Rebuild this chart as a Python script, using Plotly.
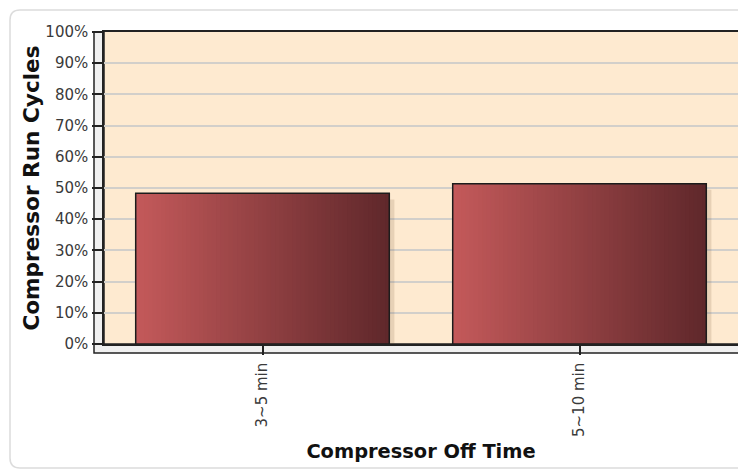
import plotly.graph_objects as go

# ---- data ----
categories = ["3~5 min", "5~10 min"]
run_cycles = [48.3, 51.4]
y_tick_values = [0, 10, 20, 30, 40, 50, 60, 70, 80, 90, 100]
y_tick_labels = ["0%", "10%", "20%", "30%", "40%", "50%", "60%", "70%", "80%", "90%", "100%"]
x_title = "Compressor Off Time"
y_title = "Compressor Run Cycles"

# ---- geometry (page offset of 8px from the html body margin) ----
OFF = 8
W, H = 746 - OFF, 470 - OFF
L, R, T, B = 104 - OFF, 8, 32 - OFF, 470 - 344
PW = W - L - R
PH = H - T - B


def px(x):
    return (x - OFF - L) / PW


def py(y):
    return (H - B - (y - OFF)) / PH


fig = go.Figure()

# drop shadow
fig.add_bar(x=categories, y=run_cycles, base=-2, width=0.8, offset=-0.4 + 0.016,
            marker=dict(color="rgba(110,80,50,0.16)", line_width=0),
            hoverinfo="skip", showlegend=False)

# gradient fill, built from overlapping slices
N = 60
c0 = (195, 89, 90)
c1 = (96, 40, 43)
BW = 0.8
for i in range(N):
    t = i / (N - 1)
    col = "rgb(%d,%d,%d)" % tuple(round(a + (b - a) * t) for a, b in zip(c0, c1))
    fig.add_bar(x=categories, y=run_cycles, width=BW - i * BW / N,
                offset=-0.4 + i * BW / N,
                marker=dict(color=col, line_width=0),
                hoverinfo="skip", showlegend=False)

# outline
fig.add_bar(x=categories, y=run_cycles, width=BW, offset=-0.4,
            marker=dict(color="rgba(0,0,0,0)", line=dict(color="#1c1c1c", width=1.5)),
            showlegend=False)

shapes = []
# outer rounded frame
x0, y0, x1, y1, r = 10, 10, 780, 468, 10
path = (f"M {px(x0)},{py(y0 + r)} Q {px(x0)},{py(y0)} {px(x0 + r)},{py(y0)} "
        f"L {px(x1)},{py(y0)} L {px(x1)},{py(y1)} L {px(x0 + r)},{py(y1)} "
        f"Q {px(x0)},{py(y1)} {px(x0)},{py(y1 - r)} Z")
shapes.append(dict(type="path", path=path, xref="paper", yref="paper",
                   line=dict(color="#dcdcdc", width=1.5), fillcolor="rgba(0,0,0,0)", layer="below"))
# left wall
shapes.append(dict(type="rect", xref="paper", yref="paper",
                   x0=px(94), x1=px(104), y0=py(344), y1=py(32),
                   fillcolor="#f0f0f0", line=dict(color="#222", width=1.5), layer="below"))
# floor
shapes.append(dict(type="rect", xref="paper", yref="paper",
                   x0=px(94), x1=px(760), y0=py(353), y1=py(344),
                   fillcolor="#f0f0f0", line=dict(color="#222", width=1.5), layer="below"))
# right wall
shapes.append(dict(type="rect", xref="paper", yref="paper",
                   x0=px(739), x1=px(760), y0=py(344), y1=py(32),
                   fillcolor="#f0f0f0", line=dict(width=0), layer="below"))

fig.update_layout(
    width=W, height=H,
    margin=dict(l=L, r=R, t=T, b=B, autoexpand=False),
    paper_bgcolor="white",
    plot_bgcolor="#FEEAD0",
    barmode="overlay",
    showlegend=False,
    shapes=shapes,
    font=dict(family="DejaVu Sans", color="#3a3a3a"),
    xaxis=dict(
        type="category", range=[-0.5, 1.5],
        showline=True, mirror=True, linecolor="#222", linewidth=1.5,
        ticks="outside", ticklen=9, tickwidth=1.5, tickcolor="#222",
        tickangle=-90, tickfont=dict(family="DejaVu Sans", size=15, color="#3a3a3a"),
        ticklabelstandoff=2,
        showgrid=False, zeroline=False,
        title=dict(text=x_title, standoff=8,
                   font=dict(family="DejaVu Sans", size=19.4, color="#111", weight="bold")),
    ),
    yaxis=dict(
        range=[0, 100], tickvals=y_tick_values, ticktext=y_tick_labels,
        showline=True, mirror=True, linecolor="#222", linewidth=1.5,
        ticks="outside", ticklen=10, tickwidth=1.5, tickcolor="#222",
        tickfont=dict(family="DejaVu Sans", size=15, color="#3a3a3a"),
        ticklabelstandoff=1,
        showgrid=True, gridcolor="#d2cfca", gridwidth=1.5, zeroline=False,
        title=dict(text=y_title, standoff=0,
                   font=dict(family="DejaVu Sans", size=21.6, color="#111", weight="bold")),
    ),
)

fig.write_html("out.html")
